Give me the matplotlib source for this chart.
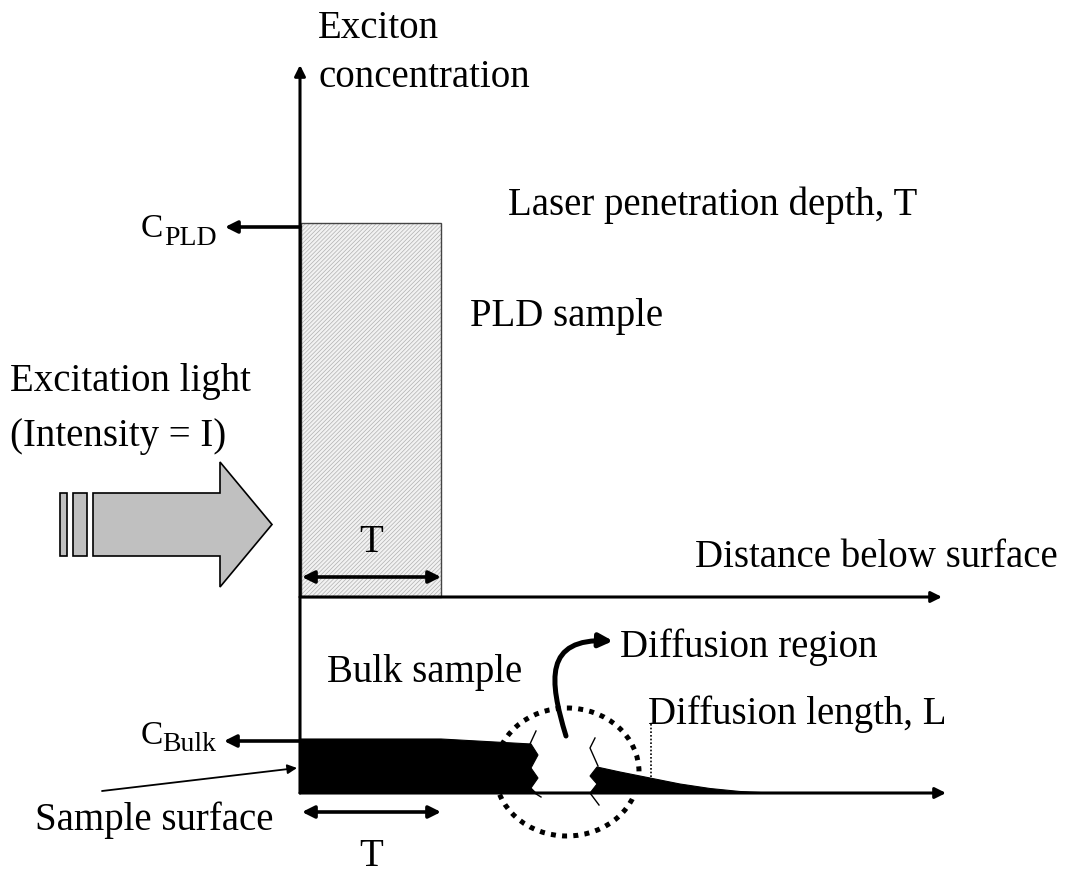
import matplotlib
matplotlib.use("Agg")
import matplotlib.pyplot as plt
from matplotlib.patches import Polygon, Rectangle, Ellipse, FancyArrowPatch
from matplotlib.path import Path

plt.rcParams['font.family'] = ['Liberation Serif', 'DejaVu Serif']
plt.rcParams['hatch.linewidth'] = 0.5

# ---- diagram data (pixel-space coordinates) ----
origin_x = 300
axis_top_y = 65
pld_axis_y = 597
bulk_axis_y = 793
axis_end_x = 942

pld_rect_x = [301, 441]
pld_rect_y = [223, 597]

# bulk exciton profile: left piece (before break)
bulk_left_x = [300, 441, 531, 538, 531, 538, 531, 536, 300]
bulk_left_y = [739, 739, 744, 755, 768, 778, 788, 793, 793]
# right piece (after break) with diffusion tail
bulk_right_x = [597, 620, 650, 680, 710, 740, 770, 770, 590, 597, 590, 597]
bulk_right_y = [767, 772, 778, 784, 788.5, 791.5, 793, 793, 793, 784, 776, 767]

break_left_lines = [([530, 536], [744, 731]), ([533, 541], [792, 797])]
break_right_lines = [([598, 590, 595], [766, 748, 738]), ([590, 599], [793, 805])]

excite_body_x = [93, 220, 220, 272, 220, 220, 93]
excite_body_y = [493, 493, 462, 524.5, 587, 556, 556]
excite_bars = [(60, 7), (73, 14)]  # (x, width)
excite_bar_y = [493, 556]

FS = 28

fig = plt.figure(figsize=(10.70, 8.73), dpi=100)
ax = fig.add_axes([0, 0, 1, 1])
ax.set_xlim(0, 1070)
ax.set_ylim(873, 0)
ax.axis('off')

# PLD rectangle (hatched)
ax.add_patch(Rectangle((pld_rect_x[0], pld_rect_y[0]), pld_rect_x[1] - pld_rect_x[0],
                       pld_rect_y[1] - pld_rect_y[0], facecolor='#f2f2f2',
                       edgecolor='#b0b0b0', hatch='/' * 8, linewidth=0, zorder=1))
ax.add_patch(Rectangle((pld_rect_x[0], pld_rect_y[0]), pld_rect_x[1] - pld_rect_x[0],
                       pld_rect_y[1] - pld_rect_y[0], fill=False,
                       edgecolor='#444444', linewidth=1.0, zorder=2))

# bulk profile
ax.add_patch(Polygon(list(zip(bulk_left_x, bulk_left_y)), closed=True, facecolor='black',
                     edgecolor='black', linewidth=0.8, zorder=3))
ax.add_patch(Polygon(list(zip(bulk_right_x, bulk_right_y)), closed=True, facecolor='black',
                     edgecolor='black', linewidth=0.8, zorder=3))
for xs, ys in break_left_lines + break_right_lines:
    ax.plot(xs, ys, color='black', lw=1.0, zorder=3)


def arrow(p0, p1, lw=2.2, style='-|>', ms=18, z=4):
    ax.add_patch(FancyArrowPatch(p0, p1, arrowstyle=style, mutation_scale=ms, lw=lw,
                                 color='black', shrinkA=0, shrinkB=0, zorder=z))


# axes arrows
arrow((origin_x, bulk_axis_y), (origin_x, axis_top_y), ms=16)
arrow((origin_x, pld_axis_y), (axis_end_x, pld_axis_y), ms=16)
arrow((origin_x, bulk_axis_y), (axis_end_x + 4, bulk_axis_y), ms=16)

# concentration markers
arrow((origin_x, 227), (225, 227), lw=2.6, ms=18)
arrow((origin_x, 741), (224, 741), lw=2.6, ms=18)

# T double arrows
arrow((302, 577), (441, 577), lw=2.6, style='<|-|>', ms=18)
arrow((302, 812), (441, 812), lw=2.6, style='<|-|>', ms=18)

# sample surface pointer
arrow((102, 791), (297, 768), lw=1.3, ms=14)

# diffusion length marker
ax.plot([651, 651], [724, 778], color='black', lw=1.2, linestyle=(0, (1, 1.2)), zorder=3)

# dotted circle around the break
ax.add_patch(Ellipse((567, 772), 144, 128, fill=False, edgecolor='black', lw=3.6,
                     linestyle=(0, (1, 1.25)), zorder=5))

# curved arrow to "Diffusion region"
verts = [(566, 736), (549, 680), (544, 638), (613, 641)]
codes = [Path.MOVETO, Path.CURVE4, Path.CURVE4, Path.CURVE4]
ax.add_patch(FancyArrowPatch(path=Path(verts, codes), arrowstyle='-|>', mutation_scale=20,
                             lw=3.6, color='black', zorder=5))

# excitation light arrow
ax.add_patch(Polygon(list(zip(excite_body_x, excite_body_y)), closed=True,
                     facecolor='#c0c0c0', edgecolor='black', lw=1.2, zorder=2))
for bx, bw in excite_bars:
    ax.add_patch(Rectangle((bx, excite_bar_y[0]), bw, excite_bar_y[1] - excite_bar_y[0],
                           facecolor='#c0c0c0', edgecolor='black', lw=1.2, zorder=2))

# texts
texts = [
    (318, 38, 'Exciton'),
    (318, 87, 'concentration'),
    (508, 215, 'Laser penetration depth, T'),
    (470, 326, 'PLD sample'),
    (10, 391, 'Excitation light'),
    (10, 446, '(Intensity = I)'),
    (695, 567, 'Distance below surface'),
    (620, 657, 'Diffusion region'),
    (327, 682, 'Bulk sample'),
    (648, 724, 'Diffusion length, L'),
    (35, 830, 'Sample surface'),
]
for x, y, s in texts:
    ax.text(x, y, s, fontsize=FS, ha='left', va='baseline', zorder=6)
ax.text(371, 552, 'T', fontsize=FS, ha='center', va='baseline', zorder=6)
ax.text(371, 866, 'T', fontsize=FS, ha='center', va='baseline', zorder=6)

# C_PLD and C_Bulk labels with lowered subscripts
ax.text(141, 237, 'C', fontsize=24, ha='left', va='baseline', zorder=6)
ax.text(164, 245, 'PLD', fontsize=20, ha='left', va='baseline', zorder=6)
ax.text(141, 744, 'C', fontsize=24, ha='left', va='baseline', zorder=6)
ax.text(162, 751, 'Bulk', fontsize=20, ha='left', va='baseline', zorder=6)

fig.savefig('out.png', dpi=100)
